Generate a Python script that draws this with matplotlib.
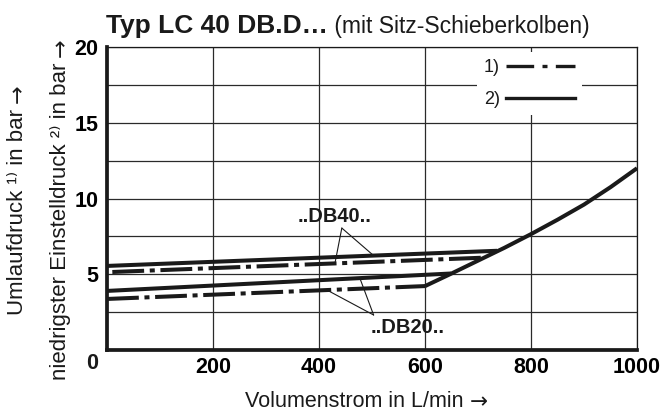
import numpy as np
import matplotlib
matplotlib.use('Agg')
import matplotlib.pyplot as plt
from matplotlib.lines import Line2D

plt.rcParams['font.family'] = ['Liberation Sans', 'DejaVu Sans']

# Volumenstrom in L/min, Druck in bar
db40_solid_q = [0, 736]
db40_solid_p = [5.55, 6.55]
db40_dash_q = [10, 714]
db40_dash_p = [5.15, 6.1]
db20_solid_q = [0, 649]
db20_solid_p = [3.9, 5.05]
db20_dash_q = [0, 600]
db20_dash_p = [3.37, 4.22]
curve_q = [600, 650, 700, 750, 800, 850, 900, 950, 1000]
curve_p = [4.22, 5.05, 5.9, 6.75, 7.65, 8.6, 9.6, 10.75, 12.0]

x_ticks = [200, 400, 600, 800, 1000]
y_ticks = [5, 10, 15, 20]
y_minor = [2.5, 7.5, 12.5, 17.5]

ink = '#1a1a1a'
lw = 2.9
dashdot = (0, (7.9, 1.4, 1.25, 1.4))
arrow = '\u2192'

fig = plt.figure(figsize=(6.66, 4.15), dpi=100)
ax = fig.add_axes([0.1607, 0.1566, 0.7958, 0.7301])
ax.set_xlim(0, 1000)
ax.set_ylim(0, 20)

ax.set_xticks(x_ticks)
ax.set_yticks(y_ticks)
ax.set_yticks(y_minor, minor=True)
ax.grid(True, which='both', color='#2a2a2a', lw=0.9)
ax.set_axisbelow(True)
ax.tick_params(which='both', length=0)
ax.tick_params(axis='x', pad=5, labelsize=15.5)
ax.tick_params(axis='y', pad=6, labelsize=15.5)
for lab in ax.get_xticklabels() + ax.get_yticklabels():
    lab.set_fontweight('bold')

for side in ['left', 'bottom']:
    ax.spines[side].set_linewidth(2.7)
for side in ['top', 'right']:
    ax.spines[side].set_linewidth(0.9)
for s in ax.spines.values():
    s.set_color(ink)

ax.plot(db40_solid_q, db40_solid_p, color=ink, lw=lw, solid_capstyle='butt')
ax.plot(db40_dash_q, db40_dash_p, color=ink, lw=lw, ls=dashdot)
ax.plot(db20_solid_q, db20_solid_p, color=ink, lw=lw, solid_capstyle='butt')
ax.plot(db20_dash_q, db20_dash_p, color=ink, lw=lw, ls=dashdot)
ax.plot(curve_q, curve_p, color=ink, lw=lw, solid_capstyle='butt')

# Beschriftung der Kennlinien mit Hinweislinien
def leader(apex, q, qs, ps):
    ax.annotate('', xy=(q, np.interp(q, qs, ps)), xytext=apex,
                arrowprops=dict(arrowstyle='-', lw=0.8, color=ink,
                                shrinkA=0, shrinkB=0))

apex40 = (443, 8.05)
leader(apex40, 430, db40_dash_q, db40_dash_p)
leader(apex40, 503, db40_solid_q, db40_solid_p)
ax.text(429, 8.8, '..DB40..', ha='center', va='center', fontsize=14.5,
        fontweight='bold', color=ink)

apex20 = (503, 2.31)
leader(apex20, 415, db20_dash_q, db20_dash_p)
leader(apex20, 477, db20_solid_q, db20_solid_p)
ax.text(567, 1.5, '..DB20..', ha='center', va='center', fontsize=14.5,
        fontweight='bold', color=ink)

ax.annotate('0', xy=(0, 0), xytext=(-11, -10), textcoords='offset points',
            ha='center', va='center', fontsize=15.5, fontweight='bold',
            color=ink, annotation_clip=False)

handles = [Line2D([], [], color=ink, lw=2.4, ls=(0, (8.3, 2.5, 1.5, 2.5))),
           Line2D([], [], color=ink, lw=2.4)]
leg = ax.legend(handles, ['1)', '2)'], loc='upper right',
                bbox_to_anchor=(0.896, 0.983), markerfirst=False,
                frameon=True, fancybox=False, framealpha=1,
                edgecolor='none', facecolor='white', fontsize=13,
                handlelength=3.8, handletextpad=0.35, labelspacing=0.8,
                borderpad=0.4, borderaxespad=0)
for t in leg.get_texts():
    t.set_color(ink)

# Achsentitel, Pfeil jeweils in DejaVu Sans angehaengt
xl = fig.text(245 / 666, 8 / 415, 'Volumenstrom in L/min ', fontsize=15.5,
              ha='left', va='baseline', color=ink)
ax.annotate(arrow, xy=(1, 0), xycoords=xl, ha='left', va='bottom',
            fontsize=15.5, family='DejaVu Sans', color=ink)

for xc, yb, s in [(18, 315, 'Umlaufdruck \u00b9\u207e in bar '),
                  (61, 380, 'niedrigster Einstelldruck \u00b2\u207e in bar ')]:
    yl = fig.text(xc / 666, 1 - yb / 415, s, rotation=90, fontsize=16,
                  ha='center', va='bottom', color=ink)
    ax.annotate(arrow, xy=(0.5, 1), xycoords=yl, rotation=90, ha='center',
                va='bottom', fontsize=16, family='DejaVu Sans', color=ink)

t1 = fig.text(106 / 666, 1 - 33 / 415, 'Typ LC 40 DB.D\u2026', fontsize=19,
              fontweight='bold', va='baseline', color=ink)
ax.annotate(' (mit Sitz-Schieberkolben)', xy=(1, 0), xycoords=t1,
            va='bottom', ha='left', fontsize=16.5, color=ink)

fig.savefig('out.png', dpi=100)
